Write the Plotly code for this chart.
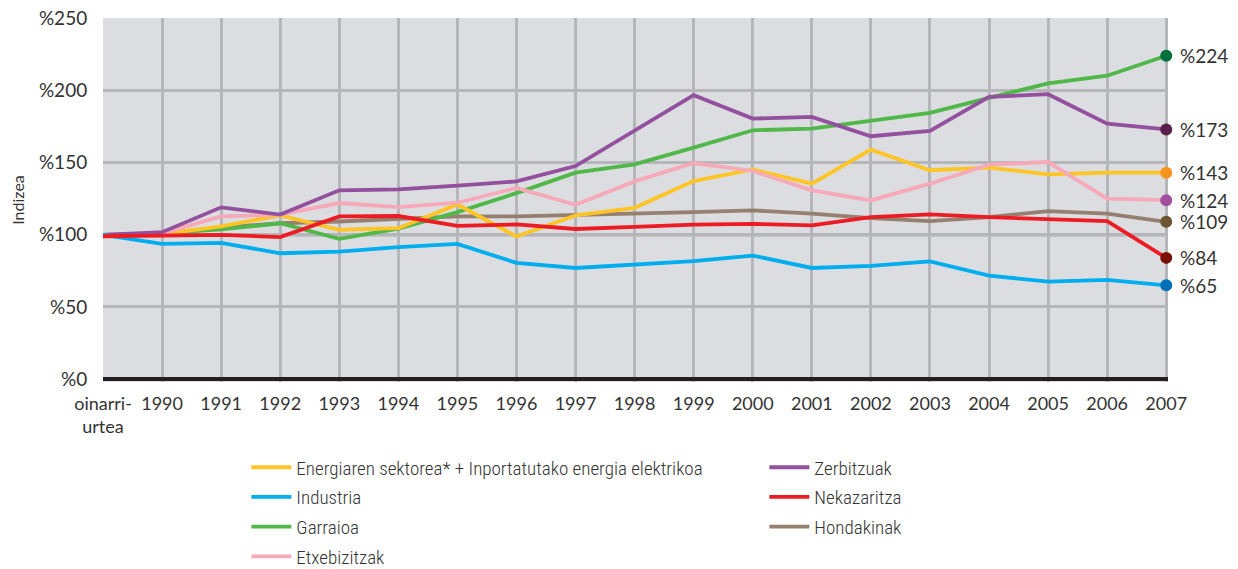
import plotly.graph_objects as go

# =====================================================
# DATA
# =====================================================

categories = ["oinarri-<br>urtea"] + [str(y) for y in range(1990, 2008)]

energia = [100, 100.5, 105.8, 113.4, 103.5, 104.6, 121, 98.8, 113.4, 118.7,
           137.2, 145.3, 135.4, 159, 144.7, 146.5, 141.9, 143, 143]
industria = [100, 93.7, 94.4, 87.2, 88.4, 91.4, 93.7, 80.5, 77, 79.4,
             81.7, 85.6, 77, 78.4, 81.5, 71.7, 67.6, 68.7, 65]
garraioa = [100, 101, 103.7, 108, 97.2, 104.2, 115.7, 128.9, 143, 148.8,
            160.4, 172.4, 173.6, 178.9, 184.5, 194.9, 204.9, 210.2, 224]
etxebizitzak = [100, 101, 112.7, 113.9, 122, 119.2, 122.2, 132.4, 120.8, 137,
                149.7, 144.2, 130.8, 123.8, 135.4, 148.6, 150.4, 125, 124]
zerbitzuak = [100, 101.8, 119, 114, 130.8, 131.5, 134, 137, 147.6, 172,
              196.7, 180.5, 181.7, 168.3, 172, 195.6, 197.4, 177, 173]
nekazaritza = [99, 99.5, 100, 98.4, 112.7, 113, 106.2, 107.2, 104, 105.5,
               107, 107.6, 106.5, 112.2, 114.1, 112.2, 110.6, 109.5, 84]
hondakinak = [100, 101, 105, 108, 109.2, 111, 112.7, 112.7, 113.6, 114.3,
              115.7, 116.9, 114.6, 111.6, 109.5, 112.2, 116.4, 114.6, 109]

y_ticks = [0, 50, 100, 150, 200, 250]
y_ticktext = ["%" + str(v) for v in y_ticks]

# name, values, line colour, end dot colour, legend column, legend rank
series = [
    ("Hondakinak", hondakinak, "#958070", "#6b5631", "legend2", 3),
    ("Garraioa", garraioa, "#50b848", "#00703c", "legend", 3),
    ("Energiaren sektorea* + Inportatutako energia elektrikoa", energia,
     "#ffc425", "#f7941d", "legend", 1),
    ("Etxebizitzak", etxebizitzak, "#f7a9b9", "#a24fa0", "legend", 4),
    ("Zerbitzuak", zerbitzuak, "#93509e", "#5a1f4a", "legend2", 1),
    ("Industria", industria, "#00aeef", "#0070b8", "legend", 2),
    ("Nekazaritza", nekazaritza, "#ed1c24", "#7b1106", "legend2", 2),
]

FONT = "Lato, 'Open Sans', sans-serif"
NARROW = "'Roboto Condensed', 'Liberation Sans Narrow', Lato, sans-serif"

x = list(range(len(categories)))

fig = go.Figure()

# reference line at 100
fig.add_shape(type="line", xref="paper", x0=0, x1=1, y0=100, y1=100,
              line=dict(color="#7d7d7f", width=3), layer="below")

for name, vals, color, dot, leg, rank in series:
    fig.add_trace(go.Scatter(
        x=x, y=vals, mode="lines", name=name,
        line=dict(color=color, width=3.8),
        legend=leg, legendrank=rank, legendgroup=name,
    ))

for name, vals, color, dot, leg, rank in series:
    fig.add_trace(go.Scatter(
        x=[x[-1]], y=[vals[-1]], mode="markers",
        marker=dict(color=dot, size=12),
        showlegend=False, cliponaxis=False, hoverinfo="skip",
    ))
    fig.add_annotation(
        x=x[-1], y=vals[-1], text="%" + str(round(vals[-1])),
        showarrow=False, xanchor="left", xshift=12,
        font=dict(family=FONT, size=19, color="#333333"),
    )

legend_style = dict(
    orientation="v", xanchor="left", yanchor="top", yref="container",
    bgcolor="rgba(0,0,0,0)", tracegroupgap=2,
    font=dict(family=NARROW, size=19, color="#333333", weight=300),
    itemwidth=40,
)

# page body adds an 8px offset, so the figure is 8px smaller each way
fig.update_layout(
    width=1230,
    height=561,
    paper_bgcolor="white",
    plot_bgcolor="#dcdde0",
    margin=dict(l=95, r=70, t=10, b=187),
    font=dict(family=FONT, size=18, color="#333333"),
    legend=dict(x=0.1346, y=0.215, **legend_style),
    legend2=dict(x=0.621, y=0.215, **legend_style),
    xaxis=dict(
        range=[0, 18.03],
        tickvals=x,
        ticktext=categories,
        showgrid=True,
        gridcolor="#b5b6b9",
        gridwidth=2.5,
        zeroline=False,
        ticks="",
        ticklabelstandoff=9,
        tickfont=dict(size=18),
    ),
    yaxis=dict(
        range=[-2, 250.2],
        tickvals=y_ticks,
        ticktext=y_ticktext,
        showgrid=True,
        gridcolor="#b5b6b9",
        gridwidth=2.5,
        zeroline=True,
        zerolinecolor="#231f20",
        zerolinewidth=4,
        ticks="outside",
        ticklen=11,
        tickcolor="rgba(0,0,0,0)",
        ticklabeloverflow="allow",
        automargin=False,
        tickfont=dict(size=19),
        title=dict(text="Indizea", font=dict(size=16), standoff=11),
    ),
)

fig.write_html("out.html")
